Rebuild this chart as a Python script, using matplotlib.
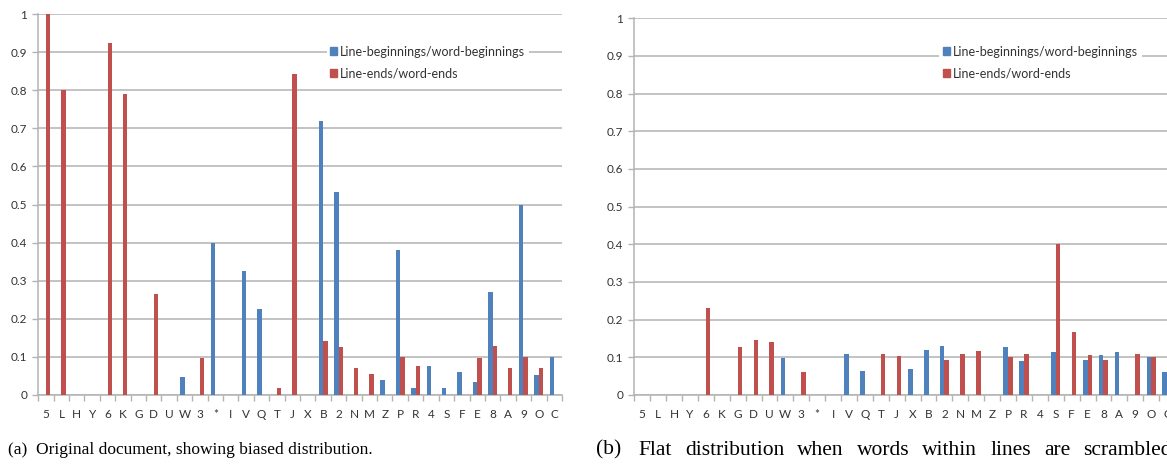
import numpy as np
import matplotlib.pyplot as plt
from matplotlib.patches import Patch

# categories (same order in both panels)
letters = ['5', 'L', 'H', 'Y', '6', 'K', 'G', 'D', 'U', 'W', '3', '*', 'I', 'V', 'Q', 'T', 'J',
           'X', 'B', '2', 'N', 'M', 'Z', 'P', 'R', '4', 'S', 'F', 'E', '8', 'A', '9', 'O', 'C']

# (a) original document
orig_begin = [0, 0, 0, 0, 0, 0, 0, 0, 0, 0.048, 0, 0.40, 0, 0.326, 0.227, 0, 0,
              0, 0.72, 0.533, 0, 0, 0.04, 0.38, 0.018, 0.075, 0.018, 0.06, 0.035, 0.27, 0, 0.50, 0.052, 0.10]
orig_end = [1.0, 0.80, 0, 0, 0.923, 0.79, 0, 0.265, 0, 0, 0.098, 0, 0, 0, 0, 0.018, 0.843,
            0, 0.143, 0.125, 0.07, 0.055, 0, 0.10, 0.075, 0, 0, 0, 0.098, 0.128, 0.072, 0.10, 0.072, 0]

# (b) words scrambled within lines
scr_begin = [0, 0, 0, 0, 0, 0, 0, 0, 0, 0.097, 0, 0, 0, 0.11, 0.065, 0, 0,
             0.068, 0.12, 0.13, 0, 0, 0, 0.128, 0.09, 0, 0.115, 0, 0.093, 0.107, 0.113, 0, 0.10, 0.062]
scr_end = [0, 0, 0, 0, 0.232, 0, 0.128, 0.147, 0.14, 0, 0.062, 0, 0, 0, 0, 0.11, 0.103,
           0, 0, 0.093, 0.108, 0.117, 0, 0.10, 0.108, 0, 0.40, 0.168, 0.107, 0.093, 0, 0.108, 0.10, 0.12]

caption_a = '(a)  Original document, showing biased distribution.'
caption_b = '(b)  Flat distribution when words within lines are scrambled.'
series_names = ['Line-beginnings/word-beginnings', 'Line-ends/word-ends']

blue = '#4F81BD'
red = '#C0504D'
grid_c = '#B3B3B3'
txt_c = '#333333'

W, H = 1167, 468
fig = plt.figure(figsize=(W / 100, H / 100), dpi=100)

panels = [
    ([0.0328, 0.156, 0.4487, 0.814], orig_begin, orig_end, [0.2745, 0.924]),
    ([0.5435, 0.156, 0.4634, 0.805], scr_begin, scr_end, [0.7993, 0.924]),
]

x = np.arange(len(letters))
w = 0.29
for pos, b, e, leg_xy in panels:
    ax = fig.add_axes(pos)
    ax.bar(x - w / 2, b, width=w, color=blue, zorder=3)
    ax.bar(x + w / 2, e, width=w, color=red, zorder=3)
    ax.set_xlim(-0.5, len(letters) - 0.5)
    ax.set_ylim(0, 1)
    ax.set_yticks(np.arange(0, 1.01, 0.1))
    ax.set_yticklabels(['0'] + ['%.1f' % v for v in np.arange(0.1, 0.95, 0.1)] + ['1'])
    ax.yaxis.grid(True, color=grid_c, lw=1.1, zorder=0)
    ax.set_xticks(x)
    ax.set_xticklabels(letters)
    ax.set_xticks(np.arange(-0.5, len(letters), 1), minor=True)
    ax.tick_params(axis='x', which='major', length=0, pad=10, labelsize=8.5, labelcolor=txt_c)
    ax.tick_params(axis='x', which='minor', length=4, color=grid_c, width=1)
    ax.tick_params(axis='y', length=4, color=grid_c, width=1, pad=4, labelsize=8.5, labelcolor=txt_c)
    for lab in ax.get_xticklabels() + ax.get_yticklabels():
        lab.set_family('Lato')
    for s in ['top', 'right']:
        ax.spines[s].set_visible(False)
    for s in ['left', 'bottom']:
        ax.spines[s].set_color(grid_c)
        ax.spines[s].set_linewidth(1.1)
    handles = [Patch(color=blue), Patch(color=red)]
    leg = fig.legend(handles, series_names, loc='upper left', bbox_to_anchor=leg_xy,
                     frameon=True, facecolor='white', edgecolor='none', framealpha=1,
                     handlelength=0.55, handleheight=0.55, handletextpad=0.25, labelspacing=0.8,
                     borderpad=0.3, fancybox=False,
                     prop={'family': 'Lato', 'size': 9})
    for t in leg.get_texts():
        t.set_color(txt_c)

cap_y = 0.038
fig.text(8 / W, cap_y, caption_a, family='Liberation Serif', fontsize=12.5, va='center', ha='left')

# caption (b) runs wider in the source and is cut at the right edge:
# lay its words out with even gaps so "scrambled" ends past the border
cap_font = dict(family='Liberation Serif', fontsize=15.5, va='center', ha='left')
renderer = fig.canvas.get_renderer()


def text_width(s):
    t = fig.text(0, 0, s, **cap_font)
    wd = t.get_window_extent(renderer).width
    t.remove()
    return wd


words = caption_b.split()
widths = [text_width(wd) for wd in words]
x0, x_end = 596, 1172
widths_fit = widths[:-1] + [text_width(words[-1].rstrip('.'))]
gap = (x_end - x0 - sum(widths_fit) - 4) / (len(words) - 1)
pos_x = x0
for k, word in enumerate(words):
    fig.text(pos_x / W, cap_y, word, **cap_font)
    pos_x += widths[k] + gap + (4 if k == 0 else 0)

fig.savefig('out.png', dpi=100)
